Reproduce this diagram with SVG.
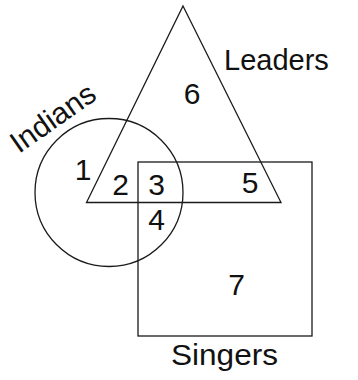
<svg xmlns="http://www.w3.org/2000/svg" width="358" height="380" viewBox="0 0 358 380">
<style>
.shape{fill:none;stroke:#1a1a1a;stroke-width:1.3}
.lbl{font-family:"Liberation Sans",Arial,sans-serif;fill:#111}
.num{font-family:"Liberation Sans",Arial,sans-serif;fill:#111;font-size:30px;text-anchor:middle}
</style>
<rect width="358" height="380" fill="#ffffff"/>
<g id="leaders">
<polygon class="shape" points="183,6 281,202.5 86.5,202.5"/>
<text class="lbl" x="224" y="69.5" font-size="29">Leaders</text>
</g>
<g id="indians">
<circle class="shape" cx="109" cy="192.5" r="74"/>
<text class="lbl" font-size="30" transform="translate(19,154) rotate(-35)">Indians</text>
</g>
<g id="singers">
<rect class="shape" x="138" y="162" width="174" height="174"/>
<text class="lbl" x="171" y="365" font-size="30" textLength="107" lengthAdjust="spacingAndGlyphs">Singers</text>
</g>
<g id="regions">
<text class="num" x="83" y="180">1</text>
<text class="num" x="120.5" y="195">2</text>
<text class="num" x="156.5" y="195">3</text>
<text class="num" x="156.5" y="230">4</text>
<text class="num" x="250" y="193">5</text>
<text class="num" x="192" y="104">6</text>
<text class="num" x="236.5" y="295">7</text>
</g>
<g id="connectors"></g>
</svg>
